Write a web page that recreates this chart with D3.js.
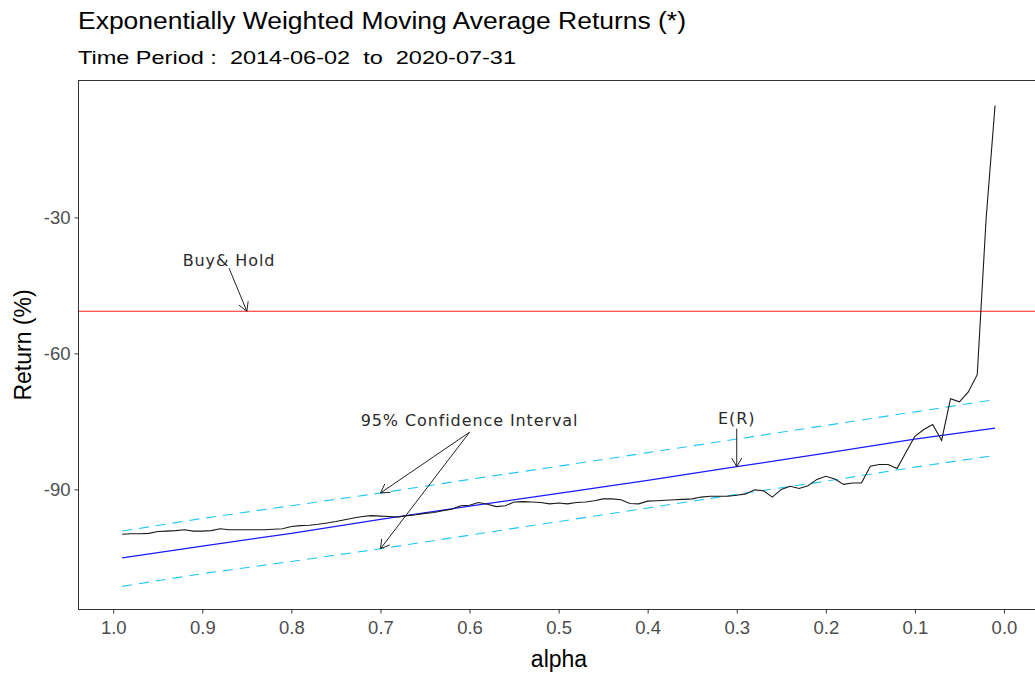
<!DOCTYPE html>
<html>
<head>
<meta charset="utf-8">
<script src="https://cdn.jsdelivr.net/npm/d3@7"></script>
<style>
  html, body { margin: 0; padding: 0; background: #fff; }
  svg { display: block; }
  text { white-space: pre; }
</style>
</head>
<body>
<svg id="chart" width="1035" height="673"></svg>
<script>
// Smoothing parameter alpha, from 0.99 down to 0.01
const alphas = [
  0.99, 0.98, 0.97, 0.96, 0.95, 0.94, 0.93, 0.92, 0.91, 0.90,
  0.89, 0.88, 0.87, 0.86, 0.85, 0.84, 0.83, 0.82, 0.81, 0.80,
  0.79, 0.78, 0.77, 0.76, 0.75, 0.74, 0.73, 0.72, 0.71, 0.70,
  0.69, 0.68, 0.67, 0.66, 0.65, 0.64, 0.63, 0.62, 0.61, 0.60,
  0.59, 0.58, 0.57, 0.56, 0.55, 0.54, 0.53, 0.52, 0.51, 0.50,
  0.49, 0.48, 0.47, 0.46, 0.45, 0.44, 0.43, 0.42, 0.41, 0.40,
  0.39, 0.38, 0.37, 0.36, 0.35, 0.34, 0.33, 0.32, 0.31, 0.30,
  0.29, 0.28, 0.27, 0.26, 0.25, 0.24, 0.23, 0.22, 0.21, 0.20,
  0.19, 0.18, 0.17, 0.16, 0.15, 0.14, 0.13, 0.12, 0.11, 0.10,
  0.09, 0.08, 0.07, 0.06, 0.05, 0.04, 0.03, 0.02, 0.01
];

// Strategy return (%) for each alpha
const ewmaReturns = [
  -99.9, -99.8, -99.8, -99.7, -99.3, -99.2, -99.1, -98.9, -99.2, -99.2,
  -99.1, -98.7, -98.9, -98.9, -98.9, -98.9, -98.9, -98.8, -98.7, -98.2,
  -98.0, -97.9, -97.7, -97.4, -97.1, -96.7, -96.3, -96.0, -95.8, -95.9,
  -96.0, -96.1, -95.8, -95.6, -95.3, -95.1, -94.7, -94.4, -93.6, -93.5,
  -92.9, -93.3, -93.8, -93.6, -92.8, -92.7, -92.8, -92.9, -93.2, -93.0,
  -93.2, -92.9, -92.8, -92.5, -92.1, -92.1, -92.3, -93.1, -93.2, -92.6,
  -92.5, -92.4, -92.3, -92.2, -92.1, -91.7, -91.5, -91.5, -91.5, -91.3,
  -91.0, -90.1, -90.3, -91.7, -90.0, -89.3, -89.8, -89.2, -87.8, -87.1,
  -87.7, -88.9, -88.6, -88.6, -84.9, -84.5, -84.5, -85.4, -81.8, -78.3,
  -76.8, -75.7, -79.2, -70.0, -70.7, -68.5, -64.7, -30.2, -5.3
];

// Expected return of random trading and its 95% confidence band
const bandAlphas   = [0.99, 0.90, 0.80, 0.70, 0.60, 0.50, 0.40, 0.30, 0.20, 0.10, 0.01];
const expectedRet  = [-105.1, -102.5, -99.7, -96.6, -93.7, -90.9, -88.0, -85.0, -82.0, -78.9, -76.5];
const upperBand    = [-99.2, -96.4, -93.6, -90.8, -87.8, -84.9, -81.9, -78.9, -75.9, -72.9, -70.2];
const lowerBand    = [-111.4, -108.6, -105.9, -103.1, -100.1, -97.1, -94.1, -91.1, -88.2, -85.1, -82.5];

// Buy & hold return (%)
const buyHold = -50.7;

// Axis ticks
const xTicks = [1.0, 0.9, 0.8, 0.7, 0.6, 0.5, 0.4, 0.3, 0.2, 0.1, 0.0];
const yTicks = [-30, -60, -90];

// Annotation labels and arrows (data coordinates)
const labels = [
  { text: "Buy& Hold", a: 0.87, v: -39.8 },
  { text: "95% Confidence Interval", a: 0.60, v: -75.0 },
  { text: "E(R)", a: 0.30, v: -74.6 }
];
const arrows = [
  { a0: 0.87, v0: -41.2, a1: 0.85, v1: buyHold },
  { a0: 0.60, v0: -77.4, a1: 0.70, v1: -90.8 },
  { a0: 0.60, v0: -77.4, a1: 0.70, v1: -103.1 },
  { a0: 0.30, v0: -76.6, a1: 0.30, v1: -85.0 }
];

const svg = d3.select("#chart");
const panel = { left: 78.5, top: 80.5, right: 1038.7, bottom: 609.5 };
const sans = "Liberation Sans, Arial, sans-serif";

const x = d3.scaleLinear().domain([1.039, -0.039]).range([panel.left, panel.right]);
const y = d3.scaleLinear().domain([-116.5, 0.2]).range([panel.bottom, panel.top]);

// Titles
svg.append("text")
  .attr("x", 78).attr("y", 29)
  .attr("font-family", sans)
  .attr("font-size", 23).attr("fill", "#000")
  .attr("textLength", 608).attr("lengthAdjust", "spacingAndGlyphs")
  .text("Exponentially Weighted Moving Average Returns (*)");

svg.append("text")
  .attr("x", 78).attr("y", 64)
  .attr("font-family", sans)
  .attr("font-size", 18.5).attr("fill", "#000")
  .attr("textLength", 438).attr("lengthAdjust", "spacingAndGlyphs")
  .text("Time Period :  2014-06-02  to  2020-07-31");

const clipId = "panel-clip";
svg.append("clipPath").attr("id", clipId)
  .append("rect")
  .attr("x", panel.left).attr("y", panel.top)
  .attr("width", panel.right - panel.left).attr("height", panel.bottom - panel.top);

// Axes
const xAxis = svg.append("g")
  .attr("transform", `translate(0,${panel.bottom})`)
  .call(d3.axisBottom(x).tickValues(xTicks).tickSize(4).tickPadding(6)
    .tickFormat(d3.format(".1f")));
const yAxis = svg.append("g")
  .attr("transform", `translate(${panel.left},0)`)
  .call(d3.axisLeft(y).tickValues(yTicks).tickSize(4).tickPadding(4)
    .tickFormat(d => String(d)));

[xAxis, yAxis].forEach(g => {
  g.select(".domain").remove();
  g.selectAll(".tick line").attr("stroke", "#333").attr("stroke-width", 1);
  g.selectAll(".tick text")
    .attr("fill", "#4d4d4d")
    .attr("font-family", sans)
    .attr("font-size", 18.5);
});
xAxis.selectAll(".tick text").attr("dy", "0.8em");

// Axis titles
svg.append("text")
  .attr("x", 559).attr("y", 667)
  .attr("text-anchor", "middle")
  .attr("font-family", sans)
  .attr("font-size", 23).attr("fill", "#000")
  .text("alpha");

svg.append("text")
  .attr("transform", "translate(31,345) rotate(-90)")
  .attr("text-anchor", "middle")
  .attr("font-family", sans)
  .attr("font-size", 23).attr("fill", "#000")
  .text("Return (%)");

const plot = svg.append("g").attr("clip-path", `url(#${clipId})`);

const line = d3.line().x(d => x(d[0])).y(d => y(d[1]));

// Buy & hold reference
plot.append("line")
  .attr("x1", panel.left).attr("x2", panel.right)
  .attr("y1", y(buyHold)).attr("y2", y(buyHold))
  .attr("stroke", "#ff2020").attr("stroke-width", 1.1);

// Confidence band
[upperBand, lowerBand].forEach(band => {
  plot.append("path")
    .datum(bandAlphas.map((a, i) => [a, band[i]]))
    .attr("d", line)
    .attr("fill", "none")
    .attr("stroke", "#1ec8f5")
    .attr("stroke-width", 1.1)
    .attr("stroke-dasharray", "10,7");
});

// Expected return
plot.append("path")
  .datum(bandAlphas.map((a, i) => [a, expectedRet[i]]))
  .attr("d", line)
  .attr("fill", "none")
  .attr("stroke", "#1a1aff")
  .attr("stroke-width", 1.2);

// EWMA strategy returns
plot.append("path")
  .datum(alphas.map((a, i) => [a, ewmaReturns[i]]))
  .attr("d", line)
  .attr("fill", "none")
  .attr("stroke", "#1a1a1a")
  .attr("stroke-width", 1.1);

// Annotation arrows
const head = 10, spread = Math.PI / 6;
arrows.forEach(ar => {
  const x0 = x(ar.a0), y0 = y(ar.v0), x1 = x(ar.a1), y1 = y(ar.v1);
  const ang = Math.atan2(y1 - y0, x1 - x0);
  const p1 = [x1 - head * Math.cos(ang - spread), y1 - head * Math.sin(ang - spread)];
  const p2 = [x1 - head * Math.cos(ang + spread), y1 - head * Math.sin(ang + spread)];
  plot.append("path")
    .attr("d", `M${x0},${y0}L${x1},${y1}M${p1[0]},${p1[1]}L${x1},${y1}L${p2[0]},${p2[1]}`)
    .attr("fill", "none")
    .attr("stroke", "#222")
    .attr("stroke-width", 1);
});

// Annotation labels
labels.forEach(l => {
  plot.append("text")
    .attr("x", x(l.a)).attr("y", y(l.v))
    .attr("text-anchor", "middle")
    .attr("dominant-baseline", "middle")
    .attr("font-family", "DejaVu Sans, Verdana, sans-serif")
    .attr("font-size", 16)
    .attr("letter-spacing", 0.9)
    .attr("fill", "#2b2b2b")
    .text(l.text);
});

// Panel border
svg.append("rect")
  .attr("x", panel.left).attr("y", panel.top)
  .attr("width", panel.right - panel.left).attr("height", panel.bottom - panel.top)
  .attr("fill", "none").attr("stroke", "#333").attr("stroke-width", 1);
</script>
</body>
</html>
